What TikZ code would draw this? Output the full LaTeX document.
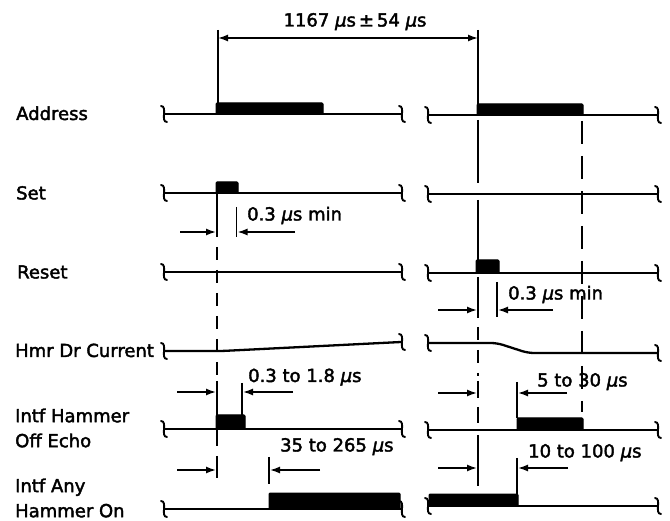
\documentclass[tikz,border=0pt]{standalone}
\usepackage{fontspec}
\setmainfont{DejaVu Sans}[RawFeature={embolden=2.2}]
\usetikzlibrary{arrows.meta}
\newcommand\mus{\textit{μ}s}
\begin{document}
\begin{tikzpicture}[x=1pt,y=-1pt,
  wave/.style={line width=2.3pt, line join=round},
  pulse/.style={fill=black, draw=black, line width=1pt, rounded corners=1pt},
  brk/.style={line width=1.9pt, line cap=round},
  dim/.style={line width=1.6pt},
  tip/.style={dim,-{Latex[length=10pt,width=7pt]}},
  twotip/.style={dim,{Latex[length=10pt,width=7pt]}-{Latex[length=10pt,width=7pt]}},
  vline/.style={line width=1.7pt},
  dashA/.style={vline, dash pattern=on 13pt off 10pt},
  dashB/.style={vline, dash pattern=on 23pt off 12pt},
  lbl/.style={anchor=base west, inner sep=0pt, font=\fontsize{18}{26}\selectfont},
  lbltwo/.style={anchor=west, align=left, inner sep=0pt, font=\fontsize{18}{25}\selectfont},
  txt/.style={anchor=base west, inner sep=0pt, font=\fontsize{18}{22}\selectfont},
  brkm/.pic={\draw[brk] (-3,-8) .. controls (4,-8) and (-4,8) .. (3,8);}
]
\useasboundingbox (0,0) rectangle (670,521);

% ---------- labels ----------
\node[lbl] (lAddr) at (16,120) {Address};
\node[lbl] (lSet) at (16,199.5) {Set};
\node[lbl] (lReset) at (17,278.5) {Reset};
\node[lbl] (lHmr) at (15,357) {Hmr Dr Current};
\node[lbltwo] (lEcho) at (15,428) {Intf Hammer\\Off Echo};
\node[lbltwo] (lAny) at (15,498) {Intf Any\\Hammer On};

% ---------- Address ----------
\draw[wave] (164,114) -- (401,114);
\draw[pulse] (216,103) rectangle (323,114);
\draw[wave] (428,115) -- (657,115);
\draw[pulse] (477,104) rectangle (583,115);
\pic at (164,114) {brkm}; \pic at (402,114) {brkm};
\pic at (428,115) {brkm}; \pic at (658,115) {brkm};

% ---------- Set ----------
\draw[wave] (164,193) -- (401,193);
\draw[pulse] (216,182) rectangle (238,193);
\draw[wave] (428,194) -- (657,194);
\pic at (164,193) {brkm}; \pic at (402,193) {brkm};
\pic at (428,194) {brkm}; \pic at (658,194) {brkm};

% ---------- Reset ----------
\draw[wave] (164,272) -- (401,272);
\draw[wave] (428,273) -- (657,273);
\draw[pulse] (476,260) rectangle (499,273);
\pic at (164,272) {brkm}; \pic at (402,272) {brkm};
\pic at (428,273) {brkm}; \pic at (658,273) {brkm};

% ---------- Hmr Dr Current ----------
\draw[wave, rounded corners=4pt] (164,351) -- (222,351) -- (401,342);
\draw[wave, rounded corners=6pt] (428,343) -- (497,343) -- (528,353) -- (657,353);
\pic at (164,351) {brkm}; \pic at (402,342) {brkm};
\pic at (428,343) {brkm}; \pic at (658,353) {brkm};

% ---------- Intf Hammer Off Echo ----------
\draw[wave] (164,429) -- (401,429);
\draw[pulse] (216,415) rectangle (245,429);
\draw[wave] (428,430) -- (657,430);
\draw[pulse] (517,418) rectangle (583,430);
\pic at (164,429) {brkm}; \pic at (402,429) {brkm};
\pic at (428,430) {brkm}; \pic at (658,430) {brkm};

% ---------- Intf Any Hammer On ----------
\draw[wave] (164,509) -- (401,509);
\draw[pulse] (269,493) rectangle (400,509);
\draw[wave] (428,506) -- (657,506);
\draw[pulse] (429,494) rectangle (518,506);
\pic at (164,509) {brkm}; \pic at (402,509) {brkm};
\pic at (428,506) {brkm}; \pic at (658,506) {brkm};

% ---------- top dimension ----------
\draw[vline] (218,30) -- (218,103);
\draw[vline] (478,30) -- (478,104);
\draw[twotip] (218,38) -- (478,38);
\node[txt, anchor=base] (tTop) at (355,26.5) {1167 \mus\,±\,54 \mus};

% ---------- vertical reference lines ----------
% left, x = 217
\draw[vline] (217,193) -- (217,237);
\draw[dashA] (217,247) -- (217,378);
\draw[vline] (217,381) -- (217,415);
\draw[vline] (217,429) -- (217,446);
\draw[vline] (217,456) -- (217,478);
% right, x = 478
\draw[vline] (478,120) -- (478,183);
\draw[vline] (478,200) -- (478,260);
\draw[vline] (478,277) -- (478,318);
\draw[dashA] (478,327) -- (478,376);
\draw[vline] (478,381) -- (478,398);
\draw[vline] (478,407) -- (478,423);
\draw[vline] (478,435) -- (478,486);
% right, x = 582
\draw[dashB] (582,121) -- (582,412);

% ---------- Set 0.3 us min ----------
\draw[tip] (180,232) -- (216,232);
\draw[vline] (236.5,207) -- (236.5,237);
\draw[tip] (295,232) -- (237.5,232);
\node[txt] (tSet) at (247,220.5) {0.3 \mus\ min};

% ---------- Reset 0.3 us min ----------
\draw[tip] (438,310) -- (477,310);
\draw[vline] (497,282) -- (497,317);
\draw[tip] (553,310) -- (498,310);
\node[txt] (tReset) at (508,299.5) {0.3 \mus\ min};

% ---------- 0.3 to 1.8 us ----------
\draw[tip] (177,392) -- (216,392);
\draw[vline] (242,383) -- (242,415);
\draw[tip] (293,392) -- (243,392);
\node[txt] (tEcho) at (248,382) {0.3 to 1.8 \mus};

% ---------- 5 to 30 us ----------
\draw[tip] (438,393) -- (477,393);
\draw[vline] (517,382) -- (517,418);
\draw[tip] (567,393) -- (518,393);
\node[txt] (tFive) at (537,386.5) {5 to 30 \mus};

% ---------- 35 to 265 us ----------
\draw[tip] (177,470) -- (216,470);
\draw[vline] (269,457) -- (269,484);
\draw[tip] (320,470) -- (270,470);
\node[txt] (tThirty) at (280,451.5) {35 to 265 \mus};

% ---------- 10 to 100 us ----------
\draw[tip] (438,468) -- (477,468);
\draw[vline] (517,458) -- (517,494);
\draw[tip] (568,468) -- (518,468);
\node[txt] (tTen) at (528,457.5) {10 to 100 \mus};
\end{tikzpicture}
\end{document}
